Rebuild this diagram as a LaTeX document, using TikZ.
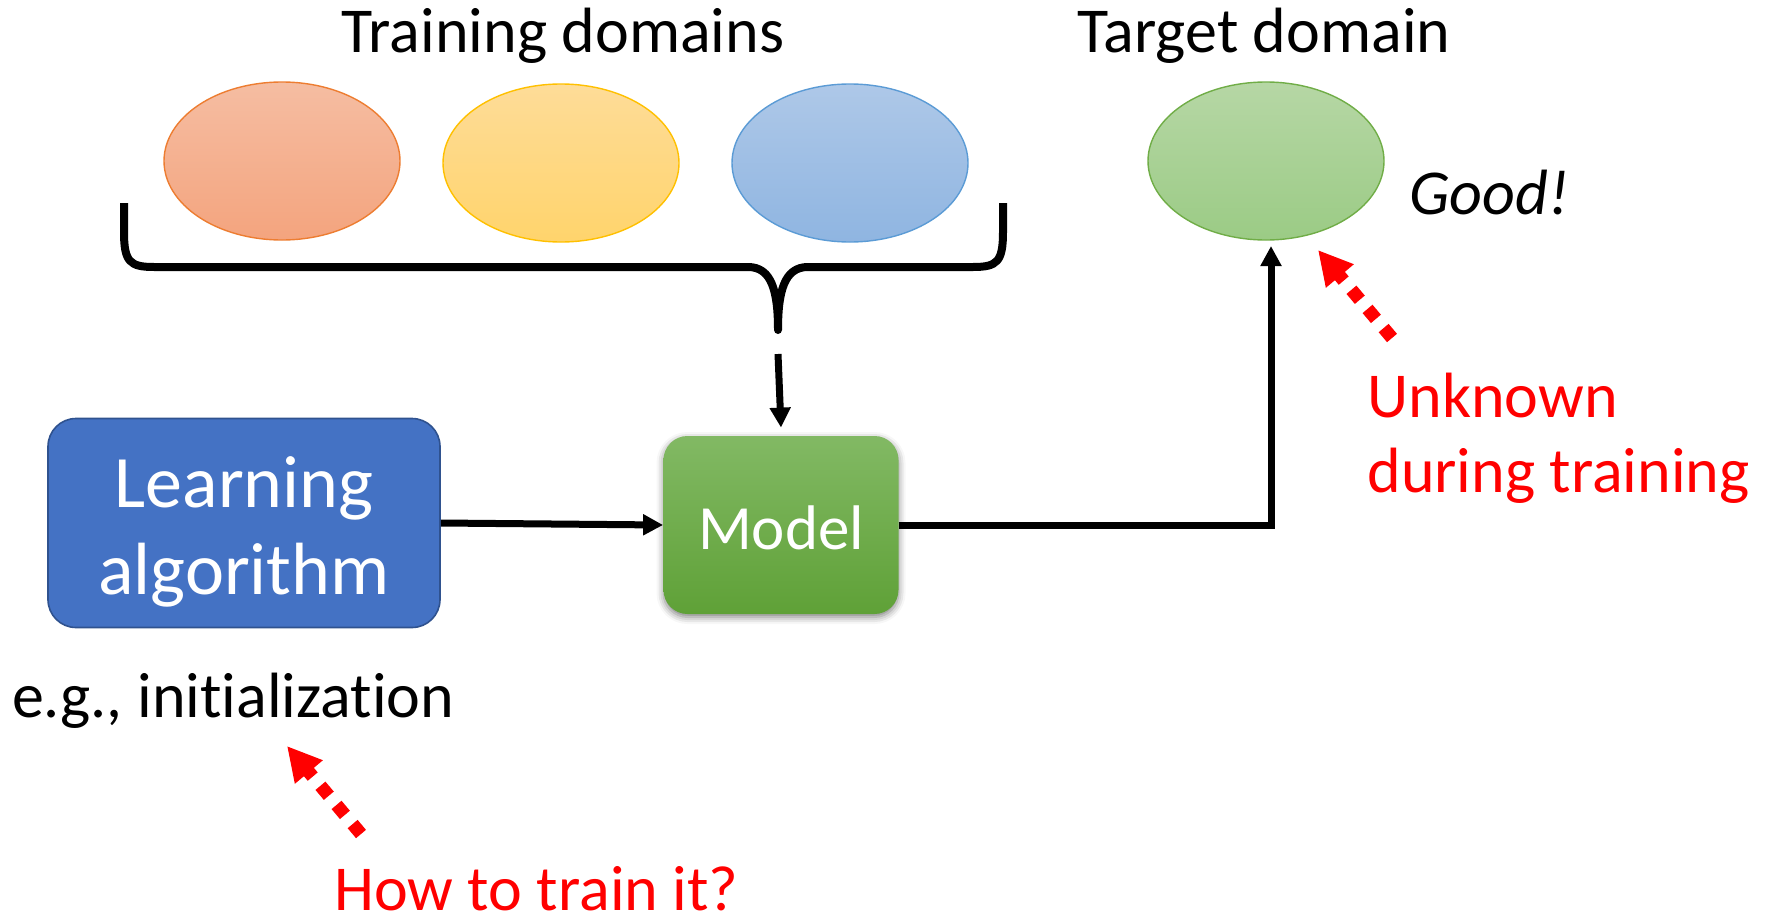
\documentclass[tikz,border=0pt]{standalone}
\usepackage{fontspec}
\setmainfont{Carlito}[Ligatures=NoCommon]
\usetikzlibrary{shapes.geometric,arrows.meta,shadows.blur}

\definecolor{orLine}{HTML}{ED7D31}
\definecolor{orTop}{HTML}{F5BDA2}
\definecolor{orBot}{HTML}{F4A47E}
\definecolor{yeLine}{HTML}{FFC000}
\definecolor{yeTop}{HTML}{FEDC98}
\definecolor{yeBot}{HTML}{FFD46C}
\definecolor{blLine}{HTML}{5B9BD5}
\definecolor{blTop}{HTML}{AEC8E8}
\definecolor{blBot}{HTML}{8FB5E1}
\definecolor{grLine}{HTML}{70AD47}
\definecolor{grTop}{HTML}{B6D7A5}
\definecolor{grBot}{HTML}{9BCB85}
\definecolor{algFill}{HTML}{4472C4}
\definecolor{algLine}{HTML}{2F528F}
\definecolor{modTop}{HTML}{82B964}
\definecolor{modBot}{HTML}{5FA137}
\definecolor{alert}{HTML}{FF0000}

\tikzset{
  blob/.style={ellipse, minimum width=118pt, minimum height=79pt, inner sep=0pt, line width=0.7pt},
  heading/.style={font=\fontsize{32}{38}\selectfont, anchor=base},
  conn/.style={line width=3.5pt, -{Triangle[length=10pt,width=10pt]}},
  hint/.style={alert, line width=6.5pt, dash pattern=on 6.5pt off 6pt,
    -{Triangle[length=17pt,width=17pt]}},
  redtext/.style={alert, font=\fontsize{32}{38}\selectfont, anchor=base west, inner sep=0pt},
}

\begin{document}
\begin{tikzpicture}[x=0.5pt, y=-0.5pt]
\useasboundingbox (0,0) rectangle (1767,921);

% domain headings
\node[heading] (trainlbl) at (563,53) {Training domains};
\node[heading] (targetlbl) at (1264,53) {Target domain};

% training domains
\node[blob, draw=orLine, top color=orTop, bottom color=orBot] (d1) at (282,161) {};
\node[blob, draw=yeLine, top color=yeTop, bottom color=yeBot] (d2) at (561,163) {};
\node[blob, draw=blLine, top color=blTop, bottom color=blBot] (d3) at (850,163) {};
% target domain
\node[blob, draw=grLine, top color=grTop, bottom color=grBot] (tgt) at (1266,161) {};
\node[font=\fontsize{32}{38}\selectfont\itshape, anchor=base west] (good) at (1402,214) {Good!};

% brace gathering the training domains
\coordinate (tip) at (778,330);
\draw[line width=4pt, line join=round]
  (124,203) -- (124,232) .. controls (124,262) and (130,267) .. (154,267)
  -- (748,267) .. controls (772,267) and (778,292) .. (tip)
  .. controls (778,292) and (784,267) .. (808,267)
  -- (973,267) .. controls (997,267) and (1003,262) .. (1003,232) -- (1003,203);

% learning algorithm and model
\node[rounded corners=14pt, fill=algFill, draw=algLine, line width=0.8pt,
      minimum width=196pt, minimum height=104.5pt, inner sep=0pt] (alg) at (244,523) {};
\node[white, font=\fontsize{37}{44}\selectfont, anchor=base] (algtxt1) at (244,507) {Learning};
\node[white, font=\fontsize{37}{44}\selectfont, anchor=base] (algtxt2) at (244,594) {algorithm};

\node[rounded corners=12pt, top color=modTop, bottom color=modBot,
      minimum width=117.5pt, minimum height=89pt, inner sep=0pt,
      blur shadow={shadow xshift=0pt, shadow yshift=-1.5pt, shadow blur radius=3.5pt, shadow opacity=50}] (model) at (781,525) {};
\node[white, font=\fontsize{31.5}{38}\selectfont, anchor=base] (modtxt) at (781,549) {Model};

% connectors
\draw[conn] ([yshift=-12]tip) -- ([yshift=4]model.north);
\draw[conn] (alg.east) -- (model.west);
\coordinate (up) at (1271,246);
\draw[conn] (model.east) -| (up);

% annotations
\node[font=\fontsize{32}{40}\selectfont, anchor=base west] (eg) at (5,717) {e.g., initialization};
\coordinate (h1s) at (361,834);
\coordinate (h1e) at (287,746);
\draw[hint] (h1s) -- (h1e);
\node[redtext] (how) at (334,910) {How to train it?};

\coordinate (h2s) at (1392,338);
\coordinate (h2e) at (1318,250);
\draw[hint] (h2s) -- (h2e);
\node[redtext] (unk1) at (1367,417) {Unknown};
\node[redtext] (unk2) at (1367,492) {during training};
\end{tikzpicture}
\end{document}
